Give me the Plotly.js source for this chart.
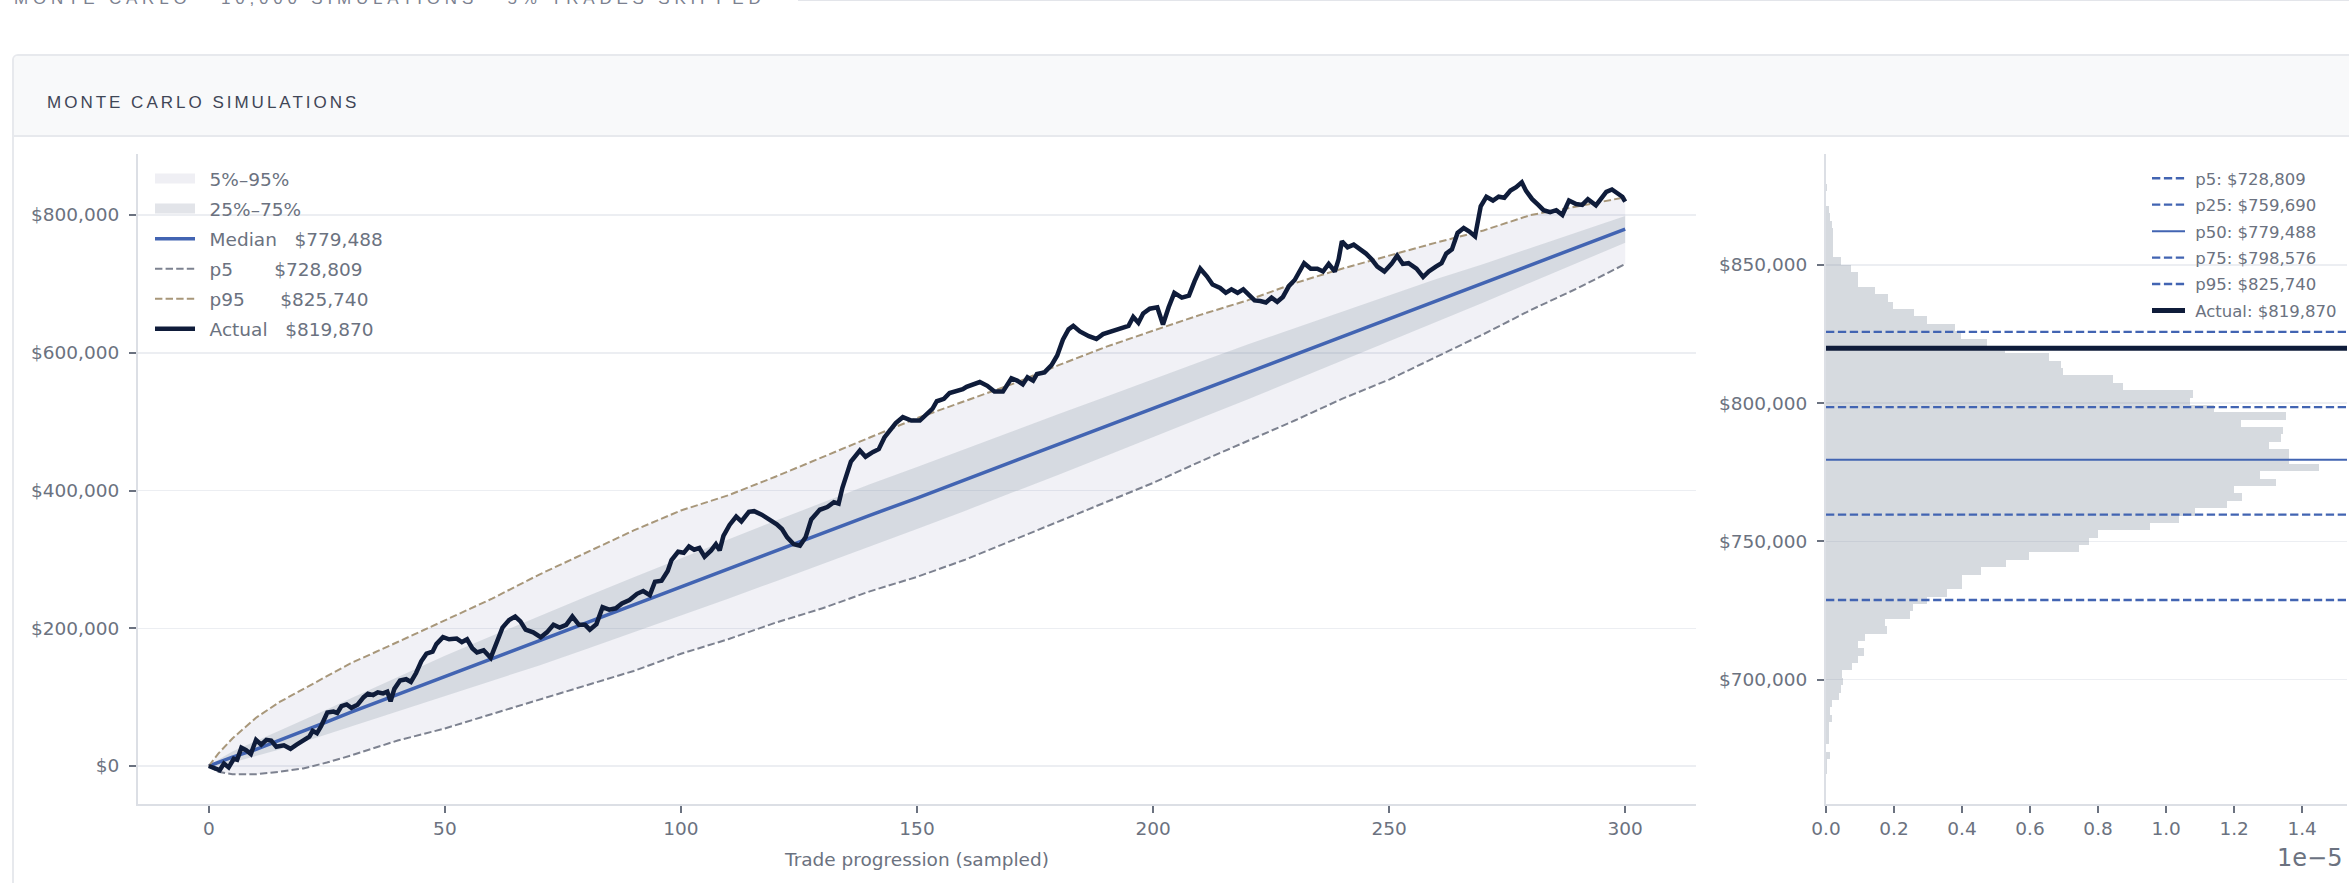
<!DOCTYPE html>
<html>
<head>
<meta charset="utf-8">
<script src="https://cdn.plot.ly/plotly-3.0.1.min.js"></script>
<style>
html,body{margin:0;padding:0;background:#ffffff;width:2349px;height:883px;overflow:hidden;position:relative;}
#toptext{position:absolute;left:14px;top:-10px;font-family:'Liberation Sans',Arial,sans-serif;font-size:17px;line-height:17px;letter-spacing:4.8px;color:#7b8190;white-space:nowrap;}
#topline{position:absolute;left:798px;right:0;top:0;height:1px;background:#e3e5ea;}
#card{position:absolute;left:12px;top:54px;width:2400px;height:900px;border:2px solid #e7e9ed;border-radius:6px;background:#ffffff;box-sizing:border-box;overflow:hidden;}
#hdr{position:absolute;left:0;top:0;right:0;height:79px;background:#f8f9fa;border-bottom:2px solid #e7e9ed;}
#hdrtext{position:absolute;left:33px;top:37px;font-family:'Liberation Sans',Arial,sans-serif;font-size:17px;line-height:20px;letter-spacing:3px;color:#3f4656;white-space:nowrap;}
#chart{position:absolute;left:0;top:0;width:2349px;height:883px;}
</style>
</head>
<body>
<div id="toptext">MONTE CARLO · 10,000 SIMULATIONS · 5% TRADES SKIPPED</div>
<div id="topline"></div>
<div id="card"><div id="hdr"></div><div id="hdrtext">MONTE CARLO SIMULATIONS</div></div>
<div id="chart"></div>
<script>
// ---------------- data (values in thousands of dollars unless noted) ----------------
const bandTrades = [0,2,5,10,15,20,25,30,40,50,60,70,80,90,100,110,120,130,140,150,160,170,180,190,200,210,220,230,240,250,260,270,280,290,300];
const medianK = [0,5,13,24,37,50,64,78,104,131,156,182,208,234,260,286,312,338,364,389,415,441,467,493,520,546,572,598,624,650,676,701,727,753,779.488];
const p5K     = [0,-8.4,-12,-12,-8.4,-3.5,5,15,37,54.5,75.5,96.4,117,138,163,184,208,229,253.6,274.6,299,327,355,383,411,442,471.6,501.6,533,561,594,627,662,694,728.809];
const p25K    = [0,1,5,14,24,35,46,58,79,102,123,146,170,194,218,243,268,293,319,344,370,396,423,450,478,505,532,560,588,616,645,673,702,731,759.690];
const p75K    = [0,9,21,36,51,66,82,98,129,160,189,218,246,274,302,329,356,383,409,434,460,486,511,536,562,587,612,636,660,684,707,729,752,775,798.576];
const p95K    = [0,18,40,70,93,112,131,149,180,212,243,278,309.5,342,371,393,420,449,477,505,529,554,582,608.5,632,655,676,701,722,741,760,777.6,800,812.6,825.740];

const actualTrades = [
 0,1.2,2.3,3.2,4.2,5.3,6,6.9,7.9,8.9,
 10,11.1,12.2,13.2,14.3,15.9,17.3,18.6,20.2,21.3,
 22,22.9,23.8,25.1,26.4,27.2,28.1,29.2,30.2,31.5,
 32.8,33.7,34.8,35.8,36.9,37.8,38.5,39.3,40.5,41.8,
 42.8,43.9,45,46.1,47.4,48.2,49.6,50.9,52.5,53.6,
 54.7,55.8,56.8,58.2,59.7,60.8,62.2,63.6,64.9,66,
 67.1,68.7,70.3,71.6,73,74.3,75.7,77,78.4,79.7,
 80.7,82.1,83.4,84.8,86.2,87.5,89.1,90.7,92,93.4,
 94.5,95.9,97.2,98,99.4,100.6,101.7,102.8,103.9,105,
 106.4,107.4,108.2,109,110.3,111.7,112.8,114.4,115.5,117.1,
 118.7,120.3,121.4,122.5,123.9,125.2,126.4,127.6,129.4,131,
 132.4,133.4,134.2,136,137.9,139.1,140.7,141.9,143.1,144.5,
 145.5,147,148.8,150.6,151.8,153.3,154.2,155.7,156.9,158.1,
 159.7,160.5,162.1,163.3,164.9,166.4,168.2,170,171.2,172.4,
 173.4,174.6,175.4,177,178.5,179.7,180.9,182.1,183.1,184.5,
 186.4,188,189.4,191.2,193,194.8,195.8,196.9,197.9,199.3,
 200.9,202.1,203.3,204.5,206.1,207.6,208.8,210,211.4,212.6,
 214.2,215.4,216.6,217.9,219.1,220.3,221.5,222.7,223.9,225.1,
 226.3,227.5,228.8,230,230.8,232,233.4,234.8,236,237.2,
 238.5,239.3,240,241.2,242.5,243.7,245.1,246.3,247.5,249,
 250.5,251.7,252.9,254.1,255.8,257.2,258.4,259.9,261.1,262.1,
 263.3,264.5,265.8,267,268.2,269.4,270.6,272,273.2,274.4,
 275.7,276.9,278.1,279,280.3,281.7,282.7,284.1,285.4,286.7,
 288.1,289.6,290.9,292.1,293.8,296,297.2,299.4,300];
const actualK = [
 0,-3.5,-6,3.5,-2,10.5,9,26.5,23,17.5,
 38,31,38,37,28,30,25,31,38,42.6,
 51,47.5,58,77.6,79,77,87,89.4,84.5,89,
 100,105,103,107,105.5,108,94,112,124,126,
 122,135,152,163,166,177,187,184,185,180,
 184,171,165,168,157,177,201,212,217,210,
 198,194,187,194,205,201,205,217,205,205,
 198,206,230.5,227,229,236,241,250,254,248,
 267.6,269,283,299,311,309.5,318.6,314,316.5,304,
 313,322,313,334,350,362,355,369,370,365,
 358,351,344,332,322,320,332,358,372,376,
 383,381,404,442,458,449,456,460,477,488,
 498,506.5,501.6,501.6,508.6,519,529.6,533,541.5,543.6,
 547,550.6,555,557.5,552,543.6,543.6,563,559.6,554,
 564.5,559.6,569,571.5,582,596,619,634,639,631,
 624,620,627,631,634,639,652,643.5,657,664,
 666,641,666,687,680,683,704,722,711,699,
 694,687,692,687,692,685,676,675,673,680,
 674,681,697,705.6,716,730,722,722,718,729,
 718,735.7,762,753,757,751,744,735.7,725,718,
 729,741,729,730,722,710,718,725,730,744,
 750,774,781,776,769,812.6,826.5,821,826.5,825,
 835.6,840.5,847.5,835,823,814,807,804,807,800,
 821,816,814.6,823,814,833.5,837,826.5,819.5,819.87];

// final-equity histogram: density in units of 1e-5, bins from low to high
const histBinStart = 666000;
const histBinWidth = 2667;
const histDensityE5 = [
 0.003,0.003,0.012,0,0.008,0.008,0.008,0.018,0.012,0.018,
 0.038,0.044,0.051,0.048,0.077,0.094,0.111,0.094,0.115,0.178,
 0.174,0.247,0.255,0.298,0.356,0.40,0.40,0.456,0.529,0.596,
 0.744,0.773,0.801,0.954,1.038,1.084,1.178,1.224,1.201,1.323,
 1.277,1.45,1.36,1.361,1.302,1.339,1.345,1.221,1.352,1.142,
 1.07,1.08,0.874,0.844,0.698,0.69,0.655,0.525,0.472,0.397,
 0.378,0.298,0.26,0.197,0.183,0.144,0.094,0.094,0.073,0.044,
 0.02,0.02,0.02,0.02,0.017,0.012,0.008,0,0,0.003];

const pctNames  = ['p5','p25','p50','p75','p95'];
const pctValues = [728809,759690,779488,798576,825740];
const actualFinal = 819870;

// ---------------- styling ----------------
const W = 2349, H = 883;
const TXT = '#6b7280';
const FONT = 'DejaVu Sans, sans-serif';
const BLUE = '#4264b2';
const NAVY = '#0f1c3a';
const OUTER_FILL = 'rgba(100,100,150,0.09)';
const INNER_FILL = 'rgba(110,128,145,0.2)';
const K = v => v * 1000;
const money = v => '$' + Math.round(v).toLocaleString('en-US');
const pad = (s, n) => (s + ' '.repeat(Math.max(0, n - s.length))).replace(/ /g, '\u00a0');
const LPAD = '\u00a0\u2009';   // gap between legend handle and label (left legend)
const RPAD = '\u00a0';         // gap between legend handle and label (right legend)

const LX = [-15, 315], LY = [-55172, 888566];
const RX = [0, 1.532], RY = [655050, 890070];
const yDom = [(H - 804) / H, (H - 154) / H];

const traces = [];
// legend patches for the two bands (legend-only entries)
traces.push({x: [null], y: [null], mode: 'lines', line: {width: 14, color: 'rgb(239,239,244)'}, name: LPAD + '5%–95%', legend: 'legend', legendgroup: 'a', xaxis: 'x', yaxis: 'y'});
traces.push({x: [null], y: [null], mode: 'lines', line: {width: 14, color: 'rgb(226,228,233)'}, name: LPAD + '25%–75%', legend: 'legend', legendgroup: 'b', xaxis: 'x', yaxis: 'y'});
// bands
traces.push({x: bandTrades, y: p5K.map(K), mode: 'lines', line: {width: 0, color: 'rgba(0,0,0,0)'}, showlegend: false, hoverinfo: 'skip', xaxis: 'x', yaxis: 'y'});
traces.push({x: bandTrades, y: p95K.map(K), mode: 'lines', fill: 'tonexty', fillcolor: OUTER_FILL, line: {width: 0, color: 'rgba(0,0,0,0)'}, showlegend: false, xaxis: 'x', yaxis: 'y'});
traces.push({x: bandTrades, y: p25K.map(K), mode: 'lines', line: {width: 0, color: 'rgba(0,0,0,0)'}, showlegend: false, hoverinfo: 'skip', xaxis: 'x', yaxis: 'y'});
traces.push({x: bandTrades, y: p75K.map(K), mode: 'lines', fill: 'tonexty', fillcolor: INNER_FILL, line: {width: 0, color: 'rgba(0,0,0,0)'}, showlegend: false, xaxis: 'x', yaxis: 'y'});
// lines
traces.push({x: bandTrades, y: medianK.map(K), mode: 'lines', line: {width: 3.5, color: BLUE}, name: LPAD + pad('Median', 8) + '\u00a0' + money(pctValues[2]), legend: 'legend', legendgroup: 'c', xaxis: 'x', yaxis: 'y'});
traces.push({x: bandTrades, y: p5K.map(K), mode: 'lines', line: {width: 2, color: '#7d8290', dash: '7.4px,3.2px'}, name: LPAD + pad('p5', 8) + '\u00a0' + money(pctValues[0]), legend: 'legend', legendgroup: 'd', xaxis: 'x', yaxis: 'y'});
traces.push({x: bandTrades, y: p95K.map(K), mode: 'lines', line: {width: 2, color: '#a8977a', dash: '7.4px,3.2px'}, name: LPAD + pad('p95', 8) + '\u00a0' + money(pctValues[4]), legend: 'legend', legendgroup: 'e', xaxis: 'x', yaxis: 'y'});
traces.push({x: actualTrades, y: actualK.map(K), mode: 'lines', line: {width: 4.5, color: NAVY}, name: LPAD + pad('Actual', 8) + '\u00a0' + money(actualFinal), legend: 'legend', legendgroup: 'f', xaxis: 'x', yaxis: 'y'});

// histogram of final equity
traces.push({
  type: 'bar', orientation: 'h',
  y: histDensityE5.map((_, i) => histBinStart + histBinWidth * (i + 0.5)),
  x: histDensityE5,
  width: histBinWidth,
  marker: {color: 'rgba(118,134,150,0.3)', line: {width: 0}},
  showlegend: false, hoverinfo: 'skip', xaxis: 'x2', yaxis: 'y2'
});
pctNames.forEach((n, i) => {
  traces.push({
    x: RX, y: [pctValues[i], pctValues[i]], mode: 'lines',
    line: n === 'p50' ? {width: 2, color: BLUE} : {width: 2.3, color: BLUE, dash: '8.3px,3.6px'},
    name: RPAD + n + ': ' + money(pctValues[i]), legend: 'legend2', legendgroup: 'r' + i, xaxis: 'x2', yaxis: 'y2'
  });
});
traces.push({x: RX, y: [actualFinal, actualFinal], mode: 'lines', line: {width: 5, color: NAVY}, name: RPAD + 'Actual: ' + money(actualFinal), legend: 'legend2', legendgroup: 'r9', xaxis: 'x2', yaxis: 'y2'});

const axisBase = {
  showline: true, linecolor: '#dcdfe5', linewidth: 2, mirror: false,
  ticks: 'outside', ticklen: 7, tickwidth: 2, tickcolor: '#6b7280',
  tickfont: {family: FONT, size: 18.5, color: TXT}, zeroline: false, fixedrange: true
};

const layout = {
  width: W, height: H, autosize: false,
  margin: {l: 0, r: 0, t: 0, b: 0},
  paper_bgcolor: 'rgba(0,0,0,0)', plot_bgcolor: 'rgba(0,0,0,0)',
  font: {family: FONT, color: TXT},
  showlegend: true,
  bargap: 0,
  xaxis: Object.assign({}, axisBase, {
    domain: [138 / W, 1696 / W], range: LX, anchor: 'y', tick0: 0, dtick: 50, showgrid: false,
    title: {text: 'Trade progression (sampled)', font: {family: FONT, size: 18.5, color: TXT}, standoff: 15}
  }),
  yaxis: Object.assign({}, axisBase, {
    domain: yDom, range: LY, anchor: 'x', tick0: 0, dtick: 200000, tickprefix: '$', tickformat: ',.0f',
    showgrid: true, gridcolor: '#eceef2', gridwidth: 1.5, ticklabelstandoff: 6
  }),
  xaxis2: Object.assign({}, axisBase, {
    domain: [1826 / W, 2347 / W], range: RX, anchor: 'y2', tick0: 0, dtick: 0.2, tickformat: '.1f', showgrid: false
  }),
  yaxis2: Object.assign({}, axisBase, {
    domain: yDom, range: RY, anchor: 'x2', tick0: 0, dtick: 50000, tickprefix: '$', tickformat: ',.0f',
    showgrid: true, gridcolor: '#eceef2', gridwidth: 1.5, ticklabelstandoff: 6
  }),
  legend: {
    x: 150 / W, xanchor: 'left', y: (H - 160) / H, yanchor: 'top',
    bgcolor: 'rgba(0,0,0,0)', borderwidth: 0, traceorder: 'grouped', tracegroupgap: 3,
    font: {family: FONT, size: 18.5, color: TXT}, itemwidth: 40
  },
  legend2: {
    x: 2342 / W, xanchor: 'right', y: (H - 161) / H, yanchor: 'top',
    bgcolor: 'rgba(0,0,0,0)', borderwidth: 0, traceorder: 'grouped', tracegroupgap: 2,
    font: {family: FONT, size: 16.5, color: TXT}, itemwidth: 33
  },
  annotations: [{
    xref: 'paper', yref: 'paper', x: 2344 / W, y: (H - 858) / H, xanchor: 'right', yanchor: 'middle',
    text: '1e\u22125', showarrow: false, font: {family: FONT, size: 24, color: TXT}
  }]
};

Plotly.newPlot('chart', traces, layout, {staticPlot: true, displayModeBar: false});
</script>
</body>
</html>
